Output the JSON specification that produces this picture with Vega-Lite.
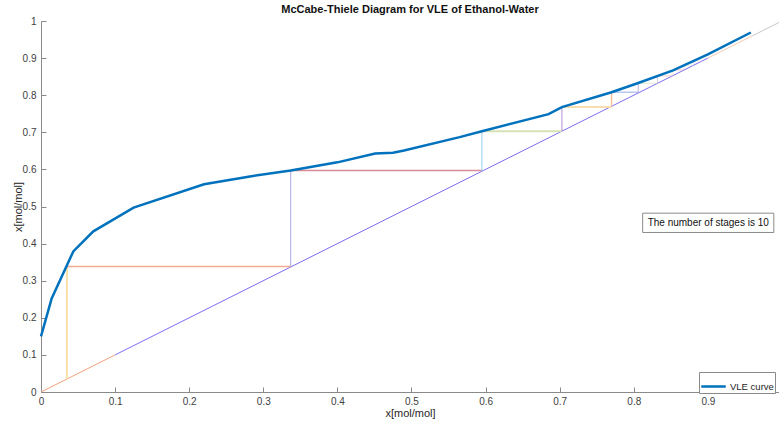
{
  "$schema": "https://vega.github.io/schema/vega-lite/v6.json",
  "autosize": {"type": "none"},
  "padding": {"left": 41, "top": 21, "right": 0, "bottom": 33},
  "width": 738,
  "height": 371,
  "background": "white",
  "config": {
    "view": {"stroke": null},
    "font": "Liberation Sans",
    "axis": {"grid": false, "domainColor": "#8a8a8a", "tickColor": "#8a8a8a", "labelColor": "#404040", "labelFontSize": 10, "titleFontSize": 11, "titleFontWeight": "normal", "titleColor": "#262626", "tickSize": -5, "labelFont": "Liberation Sans", "titleFont": "Liberation Sans", "labelOverlap": false, "labelBound": false, "labelFlush": false}
  },
  "title": {"text": "McCabe-Thiele Diagram for VLE of Ethanol-Water", "fontSize": 11, "fontWeight": "bold", "font": "Liberation Sans", "color": "#111111", "anchor": "middle", "offset": 1},
  "datasets": {
    "vle": [
      {"x": 0, "y": 0.15, "series": "VLE curve"},
      {"x": 0.0144, "y": 0.252, "series": "VLE curve"},
      {"x": 0.0436, "y": 0.379, "series": "VLE curve"},
      {"x": 0.0706, "y": 0.433, "series": "VLE curve"},
      {"x": 0.125, "y": 0.497, "series": "VLE curve"},
      {"x": 0.22, "y": 0.56, "series": "VLE curve"},
      {"x": 0.282, "y": 0.581, "series": "VLE curve"},
      {"x": 0.337, "y": 0.597, "series": "VLE curve"},
      {"x": 0.40, "y": 0.619, "series": "VLE curve"},
      {"x": 0.451, "y": 0.643, "series": "VLE curve"},
      {"x": 0.475, "y": 0.645, "series": "VLE curve"},
      {"x": 0.49, "y": 0.651, "series": "VLE curve"},
      {"x": 0.565, "y": 0.687, "series": "VLE curve"},
      {"x": 0.595, "y": 0.703, "series": "VLE curve"},
      {"x": 0.685, "y": 0.749, "series": "VLE curve"},
      {"x": 0.703, "y": 0.768, "series": "VLE curve"},
      {"x": 0.770, "y": 0.808, "series": "VLE curve"},
      {"x": 0.806, "y": 0.833, "series": "VLE curve"},
      {"x": 0.853, "y": 0.867, "series": "VLE curve"},
      {"x": 0.90, "y": 0.91, "series": "VLE curve"},
      {"x": 0.958, "y": 0.969, "series": "VLE curve"}
    ],
    "segs": [
      {"x": 0, "y": 0, "x2": 0.1, "y2": 0.1, "c": "#f0a07e", "w": 1, "o": 1},
      {"x": 0.1, "y": 0.1, "x2": 0.9, "y2": 0.9, "c": "#7b6cf0", "w": 1, "o": 1},
      {"x": 0.9, "y": 0.9, "x2": 0.96, "y2": 0.96, "c": "#f0b090", "w": 1, "o": 0.7},
      {"x": 0.96, "y": 0.96, "x2": 0.996, "y2": 0.996, "c": "#c8c8c8", "w": 1, "o": 1},
      {"x": 0.035, "y": 0.035, "x2": 0.035, "y2": 0.338, "c": "#f8e0a8", "w": 2, "o": 1},
      {"x": 0.035, "y": 0.338, "x2": 0.337, "y2": 0.338, "c": "#f2aa90", "w": 1.5, "o": 1},
      {"x": 0.337, "y": 0.337, "x2": 0.337, "y2": 0.597, "c": "#a8a8dc", "w": 1, "o": 1},
      {"x": 0.337, "y": 0.597, "x2": 0.595, "y2": 0.597, "c": "#d98a98", "w": 1.5, "o": 1},
      {"x": 0.595, "y": 0.595, "x2": 0.595, "y2": 0.703, "c": "#90d0ee", "w": 1, "o": 1},
      {"x": 0.595, "y": 0.703, "x2": 0.703, "y2": 0.703, "c": "#d4e2b4", "w": 2, "o": 1},
      {"x": 0.703, "y": 0.703, "x2": 0.703, "y2": 0.768, "c": "#b88cd6", "w": 1, "o": 1},
      {"x": 0.703, "y": 0.768, "x2": 0.770, "y2": 0.768, "c": "#f8deae", "w": 2, "o": 1},
      {"x": 0.770, "y": 0.770, "x2": 0.770, "y2": 0.808, "c": "#f5c09e", "w": 1.5, "o": 1},
      {"x": 0.770, "y": 0.808, "x2": 0.806, "y2": 0.808, "c": "#a8b8ec", "w": 1.5, "o": 0.8},
      {"x": 0.806, "y": 0.806, "x2": 0.806, "y2": 0.832, "c": "#a8a0e0", "w": 1, "o": 0.8},
      {"x": 0.806, "y": 0.832, "x2": 0.832, "y2": 0.832, "c": "#c8dcb0", "w": 1, "o": 0.6},
      {"x": 0.832, "y": 0.832, "x2": 0.832, "y2": 0.852, "c": "#c0a8e0", "w": 1, "o": 0.6},
      {"x": 0.832, "y": 0.852, "x2": 0.852, "y2": 0.852, "c": "#f0b0a8", "w": 1, "o": 0.6},
      {"x": 0.852, "y": 0.852, "x2": 0.852, "y2": 0.868, "c": "#f5c8a0", "w": 1, "o": 0.5},
      {"x": 0.852, "y": 0.868, "x2": 0.868, "y2": 0.868, "c": "#e89898", "w": 1, "o": 0.5},
      {"x": 0.868, "y": 0.868, "x2": 0.868, "y2": 0.881, "c": "#b0c0e8", "w": 1, "o": 0.4},
      {"x": 0.868, "y": 0.881, "x2": 0.881, "y2": 0.881, "c": "#d0e0b8", "w": 1, "o": 0.4},
      {"x": 0.881, "y": 0.881, "x2": 0.881, "y2": 0.892, "c": "#c8b0e0", "w": 1, "o": 0.4},
      {"x": 0.881, "y": 0.892, "x2": 0.892, "y2": 0.892, "c": "#f8d8b0", "w": 1, "o": 0.4}
    ],
    "note": [
      {"x": 0.812, "x2": 0.989, "y": 0.482, "y2": 0.430, "xt": 0.9005, "yt": 0.456, "label": "The number of stages is 10"}
    ]
  },
  "layer": [
    {
      "data": {"name": "segs"},
      "mark": {"type": "rule"},
      "encoding": {
        "x": {"field": "x", "type": "quantitative", "scale": {"domain": [0, 0.996], "nice": false, "zero": false}, "axis": {"values": [0, 0.1, 0.2, 0.3, 0.4, 0.5, 0.6, 0.7, 0.8, 0.9], "title": "x[mol/mol]", "labelPadding": 9, "titlePadding": 1, "labelOverlap": false, "labelExpr": "datum.value == 0 ? '0' : format(datum.value, '.1f')"}},
        "y": {"field": "y", "type": "quantitative", "scale": {"domain": [0, 1], "nice": false}, "axis": {"values": [0, 0.1, 0.2, 0.3, 0.4, 0.5, 0.6, 0.7, 0.8, 0.9, 1], "tickCount": 11, "title": "x[mol/mol]", "labelPadding": 10, "titlePadding": -1, "labelOverlap": false, "labelExpr": "datum.value == 0 ? '0' : datum.value == 1 ? '1' : format(datum.value, '.1f')"}},
        "x2": {"field": "x2"},
        "y2": {"field": "y2"},
        "color": {"field": "c", "type": "nominal", "scale": null, "legend": null},
        "strokeWidth": {"field": "w", "type": "quantitative", "scale": null, "legend": null},
        "opacity": {"field": "o", "type": "quantitative", "scale": null, "legend": null}
      }
    },
    {
      "data": {"name": "vle"},
      "mark": {"type": "line", "strokeWidth": 2.5, "interpolate": "linear"},
      "encoding": {
        "x": {"field": "x", "type": "quantitative"},
        "y": {"field": "y", "type": "quantitative"},
        "stroke": {"field": "series", "type": "nominal", "scale": {"domain": ["VLE curve"], "range": ["#0072bd"]},
          "legend": {"title": null, "orient": "none", "legendX": 658, "legendY": 351, "symbolType": "stroke", "symbolStrokeWidth": 2.5, "symbolSize": 600, "labelFontSize": 9.5, "labelOffset": 3, "labelColor": "#262626", "labelFont": "Liberation Sans", "strokeColor": "#8a8a8a", "fillColor": "white", "padding": 1, "cornerRadius": 0}}
      }
    },
    {
      "data": {"name": "note"},
      "mark": {"type": "rect", "fill": "white", "stroke": "#8a8a8a", "strokeWidth": 1},
      "encoding": {
        "x": {"field": "x", "type": "quantitative"},
        "x2": {"field": "x2"},
        "y": {"field": "y", "type": "quantitative"},
        "y2": {"field": "y2"}
      }
    },
    {
      "data": {"name": "note"},
      "mark": {"type": "text", "fontSize": 10, "font": "Liberation Sans", "color": "#111111", "align": "center", "baseline": "middle"},
      "encoding": {
        "x": {"field": "xt", "type": "quantitative"},
        "y": {"field": "yt", "type": "quantitative"},
        "text": {"field": "label"}
      }
    }
  ]
}
